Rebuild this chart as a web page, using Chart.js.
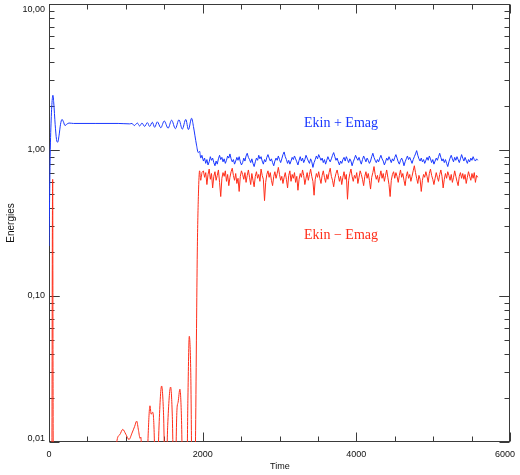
<!DOCTYPE html>
<html lang="en">
<head>
    <meta charset="UTF-8">
    <title>Energies</title>
    <script src="https://cdn.jsdelivr.net/npm/chart.js"></script>
    <style>
        body {
            margin: 0;
            background-color: white;
        }
        .chart-container {
            width: 520px;
            height: 475px;
        }
    </style>
</head>
<body>
    <div class="chart-container">
        <canvas id="energyChart"></canvas>
    </div>

    <script>
        // Early phase: irregular sample times
        const blueEarlyT = [0, 6, 15, 30, 45, 52, 62, 80, 98, 113, 130, 150, 169, 188, 208, 230, 260, 320, 600, 900, 1050,
            1080, 1110, 1150, 1180, 1210, 1245, 1280, 1310, 1345, 1375, 1410, 1455, 1500, 1550, 1596, 1645,
            1691, 1735, 1780, 1815, 1856, 1880, 1900, 1920, 1943, 1960, 1975, 1990];
        const blueEarlyV = [0.22, 0.4, 0.9, 1.7, 2.3, 2.37, 2.1, 1.5, 1.18, 1.13, 1.25, 1.5, 1.62, 1.56, 1.47, 1.5, 1.53, 1.52, 1.52, 1.52, 1.51,
            1.52, 1.47, 1.53, 1.46, 1.53, 1.45, 1.54, 1.45, 1.55, 1.43, 1.56, 1.42, 1.58, 1.41, 1.60, 1.40,
            1.61, 1.39, 1.62, 1.38, 1.65, 1.45, 1.25, 1.08, 0.96, 0.98, 0.88, 0.92];

        const redEarlyT = [0, 36, 44, 48, 52, 58, 200, 500, 850,
            880, 920, 960, 1000, 1041, 1080, 1115, 1141, 1165, 1185, 1195, 1205, 1230,
            1270, 1290, 1314, 1330, 1350, 1370, 1385, 1410, 1430, 1466, 1490, 1512,
            1525, 1545, 1583, 1605, 1625, 1645, 1665, 1680, 1704, 1725, 1745,
            1790, 1808, 1826, 1845, 1865, 1895, 1908, 1920, 1930, 1945, 1960, 1975, 1990];
        const redEarlyV = [0.003, 0.004, 0.3, 0.63, 0.04, 0.003, 0.002, 0.002, 0.003,
            0.0098, 0.0112, 0.0122, 0.0113, 0.0104, 0.0115, 0.0128, 0.0139, 0.012, 0.0106, 0.0108, 0.009, 0.004,
            0.005, 0.011, 0.0177, 0.0155, 0.016, 0.011, 0.004, 0.005, 0.012, 0.0242, 0.016, 0.006,
            0.006, 0.013, 0.0238, 0.015, 0.005, 0.006, 0.0165, 0.0187, 0.023, 0.014, 0.004,
            0.004, 0.02, 0.053, 0.03, 0.004, 0.004, 0.012, 0.06, 0.2, 0.5, 0.72, 0.62, 0.7];

        // Saturated phase: regular sampling from turbStart every turbStep
        const turbStart = 2010;
        const turbStep = 15;
        const blueTurbV = [
            0.84, 0.88, 0.81, 0.86, 0.79, 0.83, 0.90, 0.85, 0.88, 0.82,
            0.78, 0.84, 0.80, 0.87, 0.92, 0.86, 0.89, 0.83, 0.87, 0.81,
            0.85, 0.91, 0.88, 0.94, 0.87, 0.83, 0.86, 0.80, 0.84, 0.89,
            0.85, 0.90, 0.83, 0.79, 0.82, 0.88, 0.84, 0.91, 0.95, 0.89,
            0.86, 0.82, 0.87, 0.81, 0.77, 0.83, 0.88, 0.85, 0.92, 0.87,
            0.90, 0.84, 0.80, 0.86, 0.83, 0.89, 0.93, 0.88, 0.84, 0.87,
            0.82, 0.78, 0.84, 0.88, 0.85, 0.91, 0.86, 0.82, 0.87, 0.93,
            0.97, 0.90, 0.86, 0.81, 0.85, 0.80, 0.84, 0.89, 0.86, 0.91,
            0.87, 0.83, 0.79, 0.85, 0.90, 0.84, 0.88, 0.82, 0.86, 0.92,
            0.88, 0.84, 0.81, 0.87, 0.83, 0.76, 0.82, 0.86, 0.91, 0.87,
            0.93, 0.89, 0.85, 0.88, 0.82, 0.86, 0.80, 0.85, 0.90, 0.86,
            0.83, 0.87, 0.92, 0.96, 0.90, 0.85, 0.88, 0.83, 0.79, 0.84,
            0.81, 0.86, 0.89, 0.84, 0.90, 0.86, 0.82, 0.87, 0.84, 0.78,
            0.83, 0.87, 0.92, 0.88, 0.85, 0.89, 0.84, 0.80, 0.86, 0.91,
            0.87, 0.83, 0.88, 0.85, 0.81, 0.84, 0.90, 0.95, 0.89, 0.85,
            0.82, 0.86, 0.83, 0.88, 0.92, 0.87, 0.84, 0.79, 0.83, 0.88,
            0.85, 0.90, 0.86, 0.82, 0.87, 0.84, 0.89, 0.93, 0.88, 0.83,
            0.80, 0.85, 0.88, 0.84, 0.78, 0.83, 0.87, 0.91, 0.86, 0.89,
            0.85, 0.81, 0.86, 0.90, 0.94, 0.99, 0.92, 0.87, 0.84, 0.88,
            0.83, 0.86, 0.81, 0.85, 0.89, 0.85, 0.91, 0.87, 0.82, 0.86,
            0.80, 0.84, 0.88, 0.85, 0.90, 0.95, 0.89, 0.84, 0.87, 0.82,
            0.86, 0.81, 0.77, 0.83, 0.88, 0.92, 0.87, 0.83, 0.89, 0.85,
            0.90, 0.86, 0.82, 0.87, 0.93, 0.88, 0.84, 0.89, 0.85, 0.81,
            0.86, 0.83, 0.88, 0.85, 0.90, 0.86, 0.84, 0.87, 0.85];
        const redTurbV = [
            0.72, 0.65, 0.70, 0.58, 0.68, 0.74, 0.63, 0.69, 0.55, 0.66,
            0.71, 0.62, 0.67, 0.73, 0.60, 0.48, 0.64, 0.70, 0.66, 0.72,
            0.61, 0.68, 0.57, 0.65, 0.71, 0.75, 0.67, 0.62, 0.69, 0.59,
            0.64, 0.52, 0.66, 0.72, 0.68, 0.63, 0.70, 0.60, 0.67, 0.73,
            0.65, 0.58, 0.69, 0.62, 0.56, 0.66, 0.71, 0.64, 0.68, 0.61,
            0.74, 0.67, 0.63, 0.45, 0.60, 0.68, 0.72, 0.65, 0.70, 0.62,
            0.57, 0.66, 0.71, 0.64, 0.69, 0.76, 0.68, 0.62, 0.66, 0.59,
            0.65, 0.70, 0.63, 0.55, 0.67, 0.72, 0.61, 0.68, 0.64, 0.70,
            0.60, 0.66, 0.53, 0.63, 0.69, 0.65, 0.73, 0.67, 0.58, 0.64,
            0.70, 0.62, 0.68, 0.74, 0.66, 0.61, 0.49, 0.63, 0.69, 0.65,
            0.71, 0.64, 0.59, 0.67, 0.72, 0.65, 0.60, 0.68, 0.63, 0.70,
            0.75, 0.66, 0.62, 0.56, 0.64, 0.69, 0.73, 0.67, 0.61, 0.66,
            0.58, 0.65, 0.71, 0.63, 0.68, 0.46, 0.62, 0.69, 0.74, 0.66,
            0.61, 0.67, 0.64, 0.70, 0.59, 0.65, 0.72, 0.68, 0.63, 0.57,
            0.66, 0.71, 0.64, 0.69, 0.62, 0.54, 0.65, 0.70, 0.77, 0.68,
            0.63, 0.67, 0.60, 0.66, 0.72, 0.64, 0.69, 0.61, 0.67, 0.73,
            0.65, 0.58, 0.48, 0.62, 0.68, 0.71, 0.64, 0.70, 0.66, 0.60,
            0.67, 0.73, 0.65, 0.69, 0.62, 0.57, 0.66, 0.71, 0.64, 0.68,
            0.61, 0.66, 0.72, 0.78, 0.70, 0.64, 0.59, 0.67, 0.63, 0.52,
            0.62, 0.68, 0.65, 0.71, 0.66, 0.60, 0.69, 0.74, 0.67, 0.63,
            0.58, 0.64, 0.70, 0.65, 0.61, 0.68, 0.73, 0.66, 0.55, 0.63,
            0.69, 0.64, 0.71, 0.67, 0.62, 0.68, 0.60, 0.65, 0.72, 0.66,
            0.61, 0.57, 0.66, 0.70, 0.64, 0.69, 0.63, 0.68, 0.59, 0.65,
            0.71, 0.66, 0.62, 0.69, 0.64, 0.70, 0.60, 0.67, 0.65];

        // Axis labels
        const xTickValues = [0, 2000, 4000, 6000];
        const xTickLabels = ['0', '2000', '4000', '6000'];
        const yTickValues = [10, 1, 0.1, 0.01];
        const yTickLabels = ['10,00', '1,00', '0,10', '0,01'];

        const BLUE = 'rgb(25, 55, 255)';
        const RED = 'rgb(255, 45, 25)';

        function toPoints(times, values) {
            return values.map((v, i) => ({ x: times[i], y: v }));
        }
        // saturated part joins on from the last early sample
        function turbPoints(times, early, values) {
            const last = { x: times[times.length - 1], y: early[early.length - 1] };
            return [last].concat(values.map((v, i) => ({ x: turbStart + i * turbStep, y: v })));
        }

        function series(data, color, smooth) {
            return {
                data: data,
                borderColor: color,
                borderWidth: 1,
                pointRadius: 0,
                cubicInterpolationMode: smooth ? 'monotone' : 'default',
                tension: 0,
                fill: false
            };
        }

        // IDL-style frame: box with inward ticks on all four sides
        const frameAxes = {
            id: 'frameAxes',
            beforeDatasetsDraw(chart) {
                const ctx = chart.ctx;
                const a = chart.chartArea;
                const xs = chart.scales.x;
                const ys = chart.scales.y;
                const L = Math.round(a.left) + 0.5, R = Math.round(a.right) - 0.5;
                const T = Math.round(a.top) + 0.5, B = Math.round(a.bottom) - 0.5;

                ctx.save();
                ctx.strokeStyle = '#3a3a3a';
                ctx.lineWidth = 1;
                ctx.strokeRect(L, T, R - L, B - T);

                ctx.beginPath();
                for (let t = 0; t <= 6000; t += 500) {
                    const px = Math.round(xs.getPixelForValue(t)) + 0.5;
                    const len = t % 2000 === 0 ? 9 : 5;
                    ctx.moveTo(px, B); ctx.lineTo(px, B - len);
                    ctx.moveTo(px, T); ctx.lineTo(px, T + len);
                }
                [0.01, 0.1, 1].forEach(dec => {
                    for (let m = 1; m <= 10; m++) {
                        const py = Math.round(ys.getPixelForValue(dec * m)) + 0.5;
                        const len = (m === 1 || m === 10) ? 10 : 5;
                        ctx.moveTo(L, py); ctx.lineTo(L + len, py);
                        ctx.moveTo(R, py); ctx.lineTo(R - len, py);
                    }
                });
                ctx.stroke();

                ctx.fillStyle = '#111';
                ctx.font = '9px "Liberation Sans", Arial, sans-serif';
                ctx.textBaseline = 'middle';
                ctx.textAlign = 'right';
                yTickValues.forEach((v, i) => {
                    let py = ys.getPixelForValue(v);
                    py = Math.min(Math.max(py, a.top + 6), a.bottom - 3);
                    ctx.fillText(yTickLabels[i], a.left - 4, py);
                });
                ctx.textAlign = 'center';
                xTickValues.forEach((v, i) => {
                    let px = xs.getPixelForValue(v);
                    px = Math.min(px, chart.width - 15);
                    ctx.fillText(xTickLabels[i], px, a.bottom + 13);
                });

                ctx.textAlign = 'left';
                ctx.fillText('Time', 270, 467);

                ctx.save();
                ctx.translate(11, 223);
                ctx.rotate(-Math.PI / 2);
                ctx.textAlign = 'center';
                ctx.font = '10px "Liberation Sans", Arial, sans-serif';
                ctx.fillText('Energies', 0, 0);
                ctx.restore();

                ctx.font = '14px "Liberation Serif", "Times New Roman", serif';
                ctx.textBaseline = 'alphabetic';
                ctx.fillStyle = BLUE;
                ctx.fillText('Ekin + Emag', 304, 127);
                ctx.fillStyle = RED;
                ctx.fillText('Ekin \u2212 Emag', 304, 239);
                ctx.restore();
            }
        };

        const ctx = document.getElementById('energyChart').getContext('2d');
        const chart = new Chart(ctx, {
            type: 'line',
            data: {
                datasets: [
                    series(toPoints(redEarlyT, redEarlyV), RED, true),
                    series(turbPoints(redEarlyT, redEarlyV, redTurbV), RED, false),
                    series(toPoints(blueEarlyT, blueEarlyV), BLUE, true),
                    series(turbPoints(blueEarlyT, blueEarlyV, blueTurbV), BLUE, false)
                ]
            },
            options: {
                responsive: true,
                maintainAspectRatio: false,
                animation: false,
                layout: {
                    padding: { left: 49, right: 10, top: 4, bottom: 33 }
                },
                plugins: {
                    legend: { display: false },
                    tooltip: { enabled: false }
                },
                scales: {
                    x: { type: 'linear', min: 0, max: 6000, display: false },
                    y: { type: 'logarithmic', min: 0.01, max: 10, display: false }
                }
            },
            plugins: [frameAxes]
        });
    </script>
</body>
</html>
